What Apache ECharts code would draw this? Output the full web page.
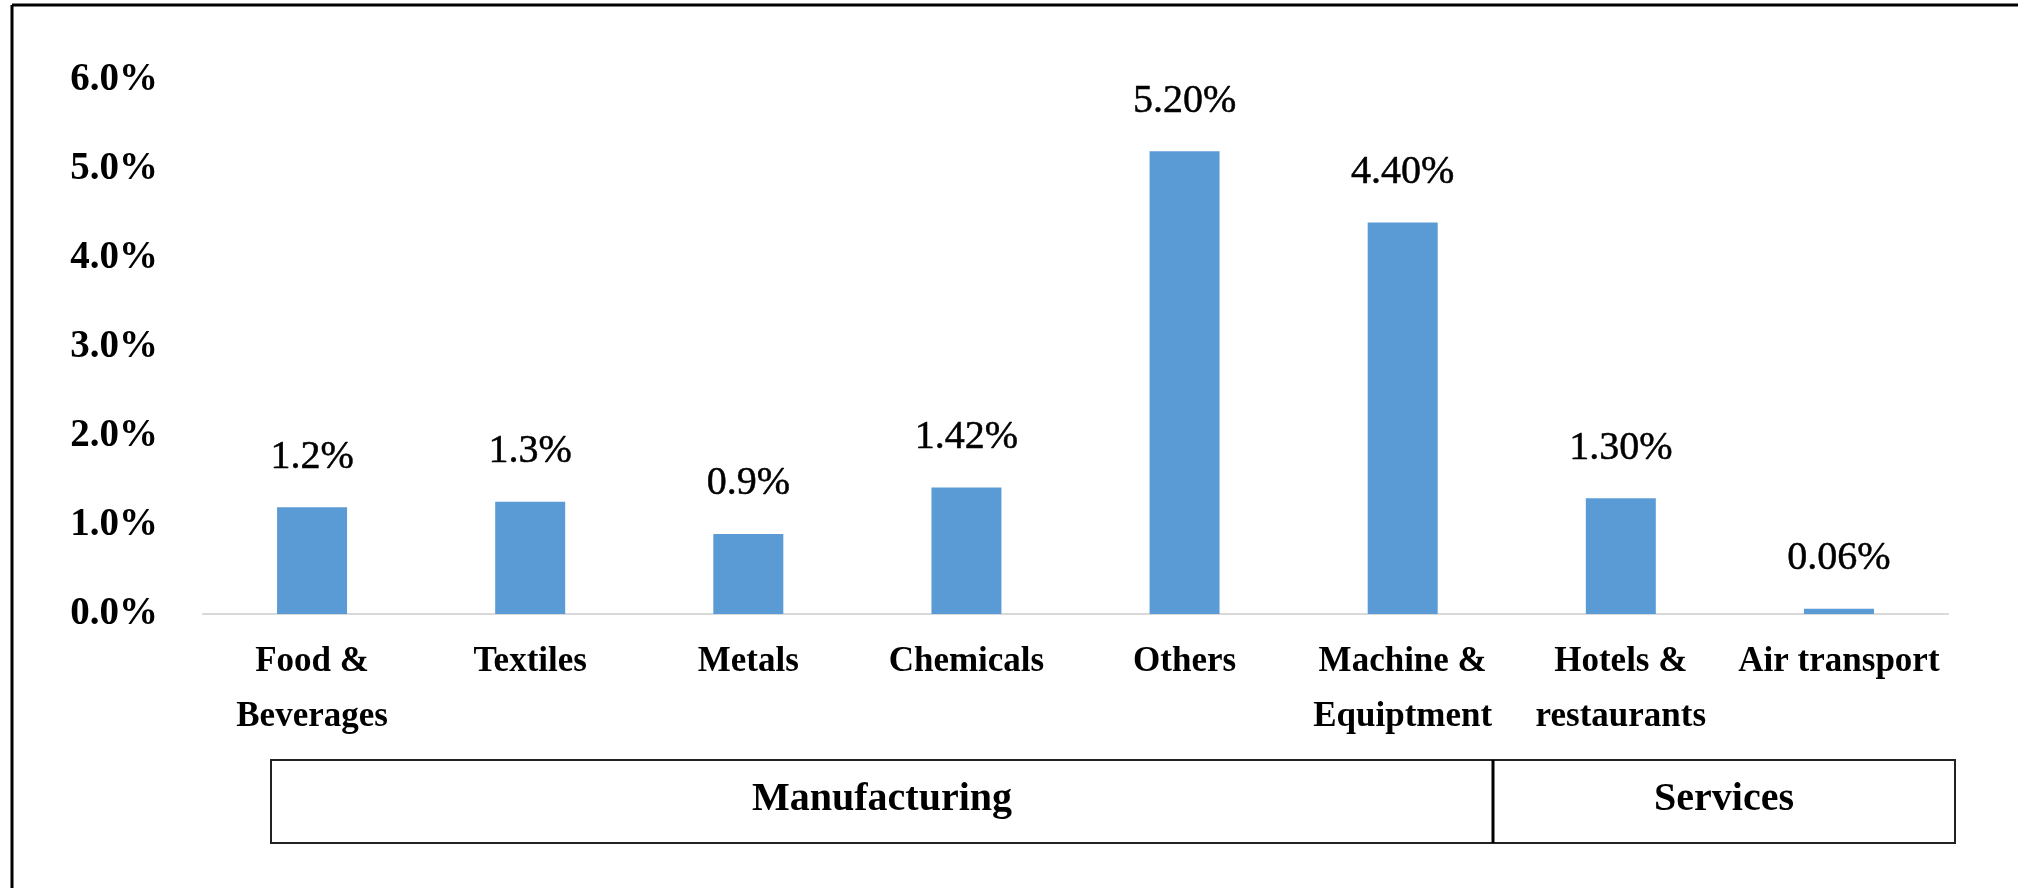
<!DOCTYPE html>
<html>
<head>
<meta charset="utf-8">
<script src="https://cdn.jsdelivr.net/npm/echarts@6/dist/echarts.min.js"></script>
<style>
html,body{margin:0;padding:0;background:#fff;}
#chart{width:2018px;height:888px;}
</style>
</head>
<body>
<div id="chart"></div>
<script>
// Data
var categories = ['Food &\nBeverages', 'Textiles', 'Metals', 'Chemicals', 'Others', 'Machine &\nEquiptment', 'Hotels &\nrestaurants', 'Air transport'];
var values = [1.2, 1.26, 0.9, 1.42, 5.2, 4.4, 1.3, 0.06];
var valueLabels = ['1.2%', '1.3%', '0.9%', '1.42%', '5.20%', '4.40%', '1.30%', '0.06%'];
var yTicks = [0, 1, 2, 3, 4, 5, 6];
var groupNames = ['Manufacturing', 'Services'];

var FONT = "'Liberation Serif', 'Times New Roman', serif";
var chart = echarts.init(document.getElementById('chart'), null, {renderer: 'canvas'});

var option = {
  backgroundColor: '#ffffff',
  animation: false,
  grid: {left: 203, right: 70, top: 80, bottom: 274, containLabel: false},
  xAxis: {
    type: 'category',
    data: categories,
    axisLine: {show: true, lineStyle: {color: '#d9d9d9', width: 2}},
    axisTick: {show: false},
    axisLabel: {
      interval: 0,
      margin: 20,
      color: '#000',
      fontFamily: FONT,
      fontWeight: 'bold',
      fontSize: 35,
      lineHeight: 55
    }
  },
  yAxis: {
    type: 'value',
    min: yTicks[0],
    max: yTicks[yTicks.length - 1],
    interval: 1,
    splitLine: {show: false},
    axisLine: {show: false},
    axisTick: {show: false},
    axisLabel: {
      margin: 45,
      color: '#000',
      fontFamily: FONT,
      fontWeight: 'bold',
      fontSize: 39,
      padding: [0, 0, 20, 0],
      formatter: function (v) { return v.toFixed(1) + '%'; }
    }
  },
  series: [{
    type: 'bar',
    data: values,
    barWidth: 70,
    itemStyle: {color: '#5b9bd5'},
    label: {
      show: true,
      position: 'top',
      distance: 30,
      color: '#000',
      fontFamily: FONT,
      fontSize: 40,
      lineHeight: 40,
      textBorderColor: '#000',
      textBorderWidth: 0.5,
      formatter: function (p) { return valueLabels[p.dataIndex]; }
    }
  }],
  graphic: [
    // outer frame (left and top edges)
    {type: 'line', shape: {x1: 12, y1: 5, x2: 2018, y2: 5}, style: {stroke: '#000', lineWidth: 3}},
    {type: 'line', shape: {x1: 12, y1: 5, x2: 12, y2: 888}, style: {stroke: '#000', lineWidth: 3}},
    // group box
    {type: 'rect', shape: {x: 271, y: 760, width: 1684, height: 83}, style: {fill: 'none', stroke: '#222', lineWidth: 2}},
    {type: 'line', shape: {x1: 1493, y1: 760, x2: 1493, y2: 843}, style: {stroke: '#000', lineWidth: 3}},
    {type: 'text', x: 882, y: 800, style: {text: groupNames[0], fill: '#000', font: "bold 40px 'Liberation Serif', 'Times New Roman', serif", textAlign: 'center', textVerticalAlign: 'middle'}},
    {type: 'text', x: 1724, y: 800, style: {text: groupNames[1], fill: '#000', font: "bold 40px 'Liberation Serif', 'Times New Roman', serif", textAlign: 'center', textVerticalAlign: 'middle'}}
  ]
};
chart.setOption(option);
</script>
</body>
</html>
